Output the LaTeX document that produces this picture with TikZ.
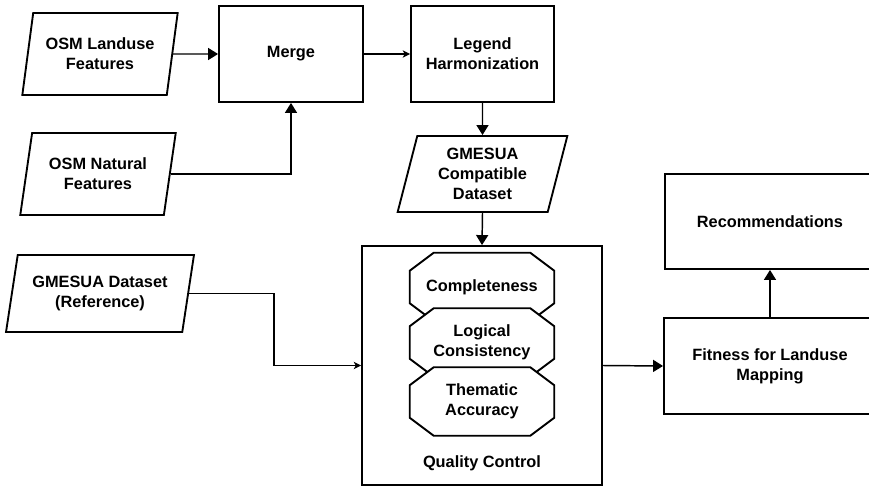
\documentclass[tikz,border=0pt]{standalone}
\usepackage{fontspec}
\setmainfont{Liberation Sans}
\usetikzlibrary{shapes.geometric,arrows.meta,backgrounds}

\begin{document}
\begin{tikzpicture}[x=0.75pt,y=-0.75pt,
    every node/.style={font=\fontsize{12.25}{15}\selectfont\bfseries, align=center},
    box/.style={draw, line width=1.4pt, rectangle, inner sep=2pt},
    data/.style={draw, line width=1.4pt, trapezium, trapezium left angle=76,
        trapezium right angle=104, trapezium stretches=true, inner sep=2pt},
    check/.style={rectangle, minimum width=108pt, minimum height=51pt, inner sep=1pt},
    octline/.style={draw, line width=1.4pt, fill=white, line join=miter},
    big/.style={line width=1.1pt, -{Triangle[length=7.5pt,width=9pt]}},
    small/.style={line width=1.1pt, -{Stealth[length=5.5pt,width=5.5pt,inset=1.5pt]}}]
    \useasboundingbox (0,0) rectangle (869,486);
    \clip (0,0) rectangle (869,486);
\node[data, minimum width=117pt, minimum height=61.5pt] (landuse) at (100,54) {OSM Landuse\\Features}; % input 1
\node[data, minimum width=117pt, minimum height=61.5pt] (natural) at (98,174) {OSM Natural\\Features}; % input 2
\node[data, minimum width=141pt, minimum height=57.75pt] (dataset) at (100,293.5) {GMESUA Dataset\\(Reference)}; % reference
\node[box, minimum width=108pt, minimum height=72pt] (merge) at (291,54) {Merge};
\node[box, minimum width=107.25pt, minimum height=72pt] (legend) at (482.5,54) {Legend\\Harmonization};
\node[data, minimum width=128.25pt, minimum height=57pt] (compat) at (482.5,174) {GMESUA\\Compatible\\Dataset};
\node[box, minimum width=180pt, minimum height=179.25pt] (qc) at (482,365.5) {}; % quality control
\node[check] (complete) at (482,287) {Completeness};
\node[check] (logical) at (482,342.5) {Logical\\Consistency};
\node[check] (thematic) at (482,401.5) {Thematic\\Accuracy};
\node (qclabel) at (482,463) {Quality Control};
\node[box, minimum width=157.5pt, minimum height=71.25pt] (recommend) at (770,221.5) {Recommendations};
\node[box, minimum width=159pt, minimum height=72pt] (fitness) at (770,366) {Fitness for Landuse\\Mapping};
% octagons behind the texts, later ones over earlier ones
\begin{pgfonlayer}{background}
\foreach \n in {complete,logical,thematic}
  \draw[octline] ([xshift=18pt]\n.north west) -- ([xshift=-18pt]\n.north east)
    -- ([yshift=-13.5pt]\n.north east) -- ([yshift=13.5pt]\n.south east)
    -- ([xshift=-18pt]\n.south east) -- ([xshift=18pt]\n.south west)
    -- ([yshift=13.5pt]\n.south west) -- ([yshift=-13.5pt]\n.north west) -- cycle;
\end{pgfonlayer}
\coordinate (elbow) at (274,365.5);
\draw[big] (landuse.east) -- (merge.west);
\draw[big] (natural.east) -| (merge.south);
\draw[small] (merge.east) -- (legend.west);
\draw[big] (legend.south) -- (compat.north);
\draw[big] (compat.south) -- (qc.north);
\draw[small] (dataset.east) -| (elbow) -- (qc.west);
\draw[big] (qc.east) -- (fitness.west);
\draw[big] (fitness.north) -- (recommend.south);
    \end{tikzpicture}
\end{document}
